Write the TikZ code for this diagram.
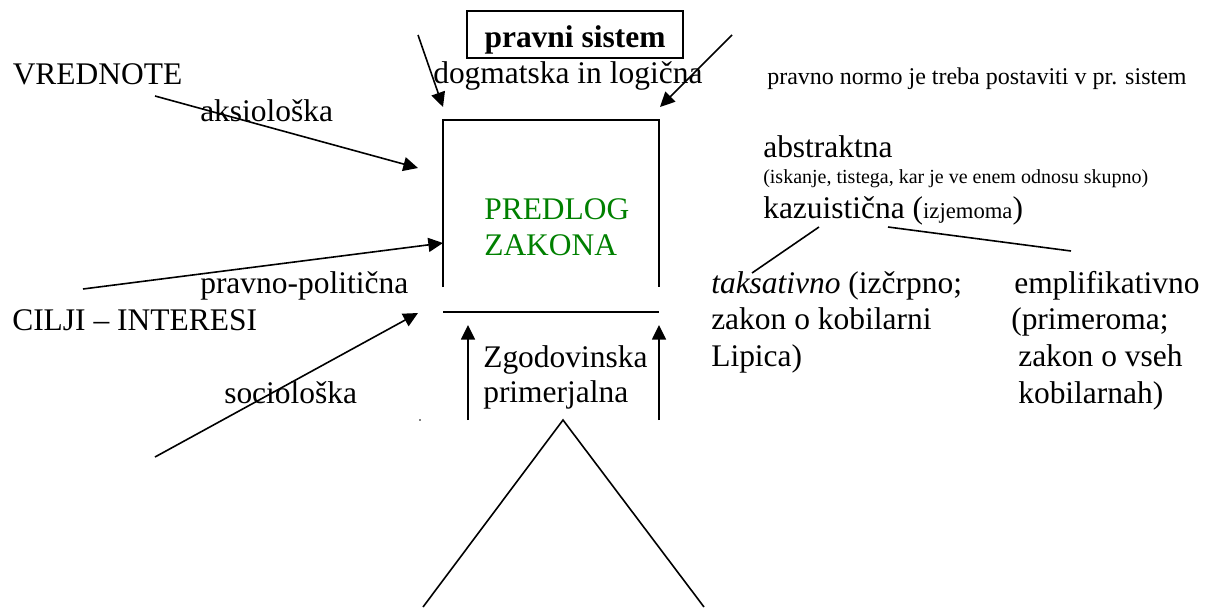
\documentclass[tikz,border=0pt]{standalone}
\usepackage{fontspec}
\setmainfont{Liberation Serif}
\usetikzlibrary{arrows.meta}
\definecolor{zgreen}{RGB}{0,128,0}
\begin{document}
\begin{tikzpicture}[x=0.75pt,y=-0.75pt,
  txt/.style={anchor=base west,inner sep=0pt,font=\fontsize{23.6}{28}\selectfont},
  smalltxt/.style={anchor=base west,inner sep=0pt,font=\fontsize{18}{22}\selectfont},
  tinytxt/.style={anchor=base west,inner sep=0pt,font=\fontsize{15}{18}\selectfont},
  ln/.style={line width=1.2pt},
  arr/.style={ln,-{Triangle[length=11pt,width=10.5pt]}}]
\useasboundingbox (0,0) rectangle (1230,607);

% top box
\node[draw,ln,anchor=base,inner sep=0pt,minimum width=162pt,text height=27pt,text depth=8.25pt,
  font=\fontsize{23.6}{28}\selectfont\bfseries] (ps) at (575,47) {pravni sistem};
\node[txt] (dog) at (433,83) {dogmatska in logična};
\node[smalltxt] (norm) at (767,84) {pravno normo je treba postaviti v pr. sistem};

% main open box
\coordinate (tl) at (443,120); \coordinate (tr) at (659,120);
\coordinate (bl) at (443,287); \coordinate (br) at (659,287);
\coordinate (hl) at (443,312); \coordinate (hr) at (659,312);
\draw[ln] (bl) -- (tl) -- (tr) -- (br);
\draw[ln] (hl) -- (hr);
\node[txt,text=zgreen] (pred) at (484,219) {PREDLOG};
\node[txt,text=zgreen] (zak) at (484,255) {ZAKONA};

% left labels
\node[txt] (vred) at (12.5,84) {VREDNOTE};
\node[txt] (aks) at (200,121) {aksiološka};
\node[txt] (pp) at (200,293) {pravno-politična};
\node[txt] (cilji) at (12,330) {CILJI – INTERESI};
\node[txt] (soc) at (224,403) {sociološka};

% bottom labels
\node[txt] (zg) at (483,367) {Zgodovinska};
\node[txt] (prim) at (483,402) {primerjalna};

% right labels
\node[txt] (abs) at (763,157) {abstraktna};
\node[tinytxt] (isk) at (763,183) {(iskanje, tistega, kar je ve enem odnosu skupno)};
\node[txt] (kaz) at (763,218) {kazuistična ({\fontsize{17}{20}\selectfont izjemoma})};
\node[txt] (tak1) at (711,293) {\textit{taksativno} (izčrpno;};
\node[txt] (tak2) at (711,329) {zakon o kobilarni};
\node[txt] (tak3) at (711,366) {Lipica)};
\node[txt] (emp1) at (1014,293) {emplifikativno};
\node[txt] (emp2) at (1011,329) {(primeroma;};
\node[txt] (emp3) at (1018,366) {zakon o vseh};
\node[txt] (emp4) at (1018,403) {kobilarnah)};

% arrows
\coordinate (a1s) at (418,35);  \coordinate (a1t) at (443,107);
\coordinate (a2s) at (732,35);  \coordinate (a2t) at (660,107);
\coordinate (a3s) at (155,96);  \coordinate (a3t) at (418,168);
\coordinate (a4s) at (83,289);  \coordinate (a4t) at (443,243);
\coordinate (a5s) at (155,457); \coordinate (a5t) at (418,313);
\coordinate (a6s) at (468,420); \coordinate (a6t) at (468,325);
\coordinate (a7s) at (659,420); \coordinate (a7t) at (659,325);
\draw[arr] (a1s) -- (a1t);
\draw[arr] (a2s) -- (a2t);
\draw[arr] (a3s) -- (a3t);
\draw[arr] (a4s) -- (a4t);
\draw[arr] (a5s) -- (a5t);
\draw[arr] (a6s) -- (a6t);
\draw[arr] (a7s) -- (a7t);

% branch lines
\coordinate (k1) at (819,227); \coordinate (k1e) at (752,273);
\coordinate (k2) at (888,227); \coordinate (k2e) at (1071,251);
\draw[ln] (k1) -- (k1e);
\draw[ln] (k2) -- (k2e);

% triangle
\coordinate (ta) at (563,420); \coordinate (tbl) at (423,607); \coordinate (tbr) at (704,607);
\draw[ln] (tbl) -- (ta) -- (tbr);

% stray dot
\fill (420,420) circle (0.6pt);
\end{tikzpicture}
\end{document}
